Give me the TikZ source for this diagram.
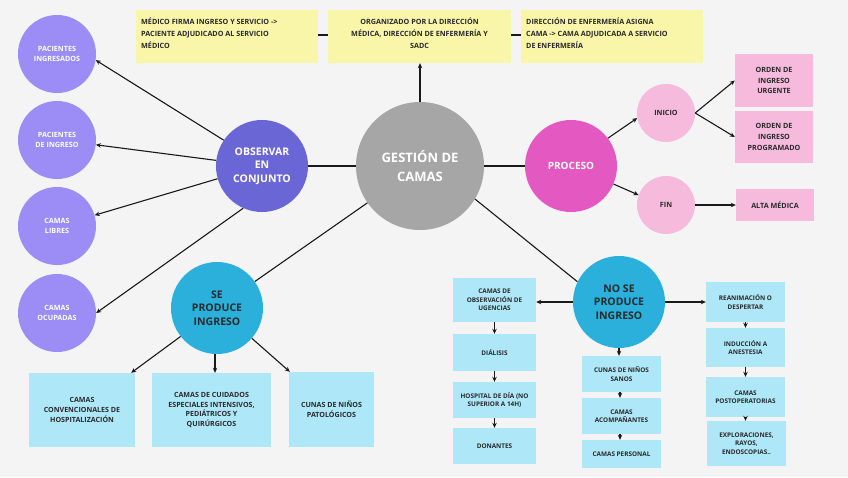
\documentclass[tikz,border=0pt]{standalone}
\usepackage{fontspec}
\setmainfont{Open Sans}
\usetikzlibrary{arrows.meta}
\definecolor{bgc}{HTML}{F4F4F4}
\definecolor{yel}{HTML}{F9F5A9}
\definecolor{gry}{HTML}{A6A6A6}
\definecolor{obsc}{HTML}{6B66D6}
\definecolor{lilac}{HTML}{9C8CF6}
\definecolor{cyanc}{HTML}{2BB0DC}
\definecolor{lblue}{HTML}{ADE7F8}
\definecolor{magc}{HTML}{E458C1}
\definecolor{pinkc}{HTML}{F5BADC}
\definecolor{txt}{HTML}{2A2A2A}
\tikzset{
  conn/.style={draw=black!90, line width=1.1pt},
  arr/.style={conn, -{Stealth[length=5pt,width=4.5pt]}},
  circ/.style={circle, inner sep=0pt, align=center},
  ybox/.style={rectangle, fill=yel, inner sep=0pt, text=txt, font=\bfseries\fontsize{7.2}{12}\selectfont},
  bbox/.style={rectangle, fill=lblue, inner sep=0pt, align=center, text=txt, font=\bfseries\fontsize{7.1}{9.8}\selectfont},
  rbox/.style={bbox, font=\bfseries\fontsize{6.4}{8.4}\selectfont},
  pbox/.style={rectangle, fill=pinkc, inner sep=0pt, align=center, text=txt, font=\bfseries\fontsize{7.2}{10.6}\selectfont},
  leftc/.style={circ, fill=lilac, minimum size=78pt, text=white, font=\bfseries\fontsize{7.2}{9.8}\selectfont},
  bigc/.style={circ, minimum size=92pt, font=\bfseries\fontsize{10.5}{13.3}\selectfont},
  smallc/.style={circ, fill=pinkc, minimum size=58pt, text=txt, font=\bfseries\fontsize{7.2}{9}\selectfont},
}
\begin{document}
\begin{tikzpicture}[x=1pt,y=-1pt]
\fill[bgc] (0,0) rectangle (848,477);
\useasboundingbox (0,0) rectangle (848,477);

% top yellow boxes
\node[ybox, minimum width=182pt, minimum height=53pt] (y1) at (227,36.5) {};
\node[ybox, anchor=north west, align=left] at (141,18) {MÉDICO FIRMA INGRESO Y SERVICIO ->\\PACIENTE ADJUDICADO AL SERVICIO\\MÉDICO};
\node[ybox, minimum width=183pt, minimum height=53pt] (y2) at (419.5,36.5) {};
\node[ybox, anchor=north, align=center] at (419.5,18) {ORGANIZADO POR LA DIRECCIÓN\\MÉDICA, DIRECCIÓN DE ENFERMERÍA Y\\SADC};
\node[ybox, minimum width=182pt, minimum height=53pt] (y3) at (612,36.5) {};
\node[ybox, anchor=north west, align=left] at (526,18) {DIRECCIÓN DE ENFERMERÍA ASIGNA\\CAMA -> CAMA ADJUDICADA A SERVICIO\\DE ENFERMERÍA};
\draw[conn] (y1.east |- 0,35) -- (y2.west |- 0,35);
\draw[conn] (y2.east |- 0,35) -- (y3.west |- 0,35);

% main circles
\node[circ, fill=gry, minimum size=128pt, text=white, font=\bfseries\fontsize{13}{19}\selectfont] (gest) at (420,166) {GESTIÓN DE\\CAMAS};
\node[bigc, fill=obsc, text=white] (obsv) at (262,166) {OBSERVAR\\EN\\CONJUNTO};
\node[bigc, fill=cyanc, text=txt] (se) at (217,308) {SE\\PRODUCE\\INGRESO};
\node[bigc, fill=magc, text=white, font=\bfseries\fontsize{10}{13}\selectfont] (proc) at (571,166) {PROCESO};
\node[bigc, fill=cyanc, text=txt] (nose) at (619,302) {NO SE\\PRODUCE\\INGRESO};

% left circles
\node[leftc] (ping) at (57,54) {PACIENTES\\INGRESADOS};
\node[leftc] (pdi) at (57,140) {PACIENTES\\DE INGRESO};
\node[leftc] (libres) at (57,226) {CAMAS\\LIBRES};
\node[leftc] (ocup) at (57,313) {CAMAS\\OCUPADAS};

% proceso side
\node[smallc] (ini) at (666,113) {INICIO};
\node[smallc] (fin) at (666,205) {FIN};
\node[pbox, minimum width=78pt, minimum height=53pt] (urg) at (774,80.5) {ORDEN DE\\INGRESO\\URGENTE};
\node[pbox, minimum width=78pt, minimum height=52pt] (prog) at (774,137) {ORDEN DE\\INGRESO\\PROGRAMADO};
\node[pbox, minimum width=78pt, minimum height=32pt] (alta) at (775,205) {ALTA MÉDICA};

% se produce ingreso boxes
\node[bbox, minimum width=106pt, minimum height=74pt] (conv) at (82,410) {CAMAS\\CONVENCIONALES DE\\HOSPITALIZACIÓN};
\node[bbox, minimum width=119pt, minimum height=74pt] (cuid) at (211.5,410) {CAMAS DE CUIDADOS\\ESPECIALES INTENSIVOS,\\PEDIÁTRICOS Y\\QUIRÚRGICOS};
\node[bbox, minimum width=85pt, minimum height=75pt] (cunpat) at (331.5,409.5) {CUNAS DE NIÑOS\\PATOLÓGICOS};

% no se produce ingreso boxes
\node[rbox, minimum width=83pt, minimum height=44pt] (obs) at (494.5,300) {CAMAS DE\\OBSERVACIÓN DE\\UGENCIAS};
\node[rbox, minimum width=83pt, minimum height=37pt] (dial) at (494.5,352.5) {DIÁLISIS};
\node[rbox, minimum width=83pt, minimum height=36pt] (hosp) at (494.5,400) {HOSPITAL DE DÍA (NO\\SUPERIOR A 14H)};
\node[rbox, minimum width=83pt, minimum height=36pt] (don) at (494.5,446) {DONANTES};

\node[rbox, minimum width=79pt, minimum height=36pt] (sanos) at (621.5,374) {CUNAS DE NIÑOS\\SANOS};
\node[rbox, minimum width=79pt, minimum height=36pt] (acomp) at (621.5,416) {CAMAS\\ACOMPAÑANTES};
\node[rbox, minimum width=79pt, minimum height=28pt] (pers) at (621.5,454) {CAMAS PERSONAL};

\node[rbox, minimum width=79pt, minimum height=40pt] (rean) at (745.5,302) {REANIMACIÓN O\\DESPERTAR};
\node[rbox, minimum width=79pt, minimum height=39pt] (ind) at (745.5,347.5) {INDUCCIÓN A\\ANESTESIA};
\node[rbox, minimum width=79pt, minimum height=40pt] (postop) at (745.5,397) {CAMAS\\POSTOPERATORIAS};
\node[rbox, minimum width=79pt, minimum height=45pt] (expl) at (746.5,443.5) {EXPLORACIONES,\\RAYOS,\\ENDOSCOPIAS..};

% connectors from gestion
\draw[arr] (gest.north) -- (gest.north |- y2.south);
\draw[conn] (gest.west) -- (obsv.east);
\draw[conn] (gest.east) -- (proc.west);
\draw[conn] (gest.215) -- (se.35);
\draw[conn] (gest.-31) -- (nose.154);

% observar
\draw[arr] (obsv.146) -- (ping.-9);
\draw[arr] (obsv.173) -- (pdi.-7);
\draw[arr] (obsv.196) -- (libres.16);
\draw[arr] (obsv.246) -- (ocup.0);

% proceso
\draw[arr] (proc.37) -- (ini.190);
\draw[arr] (proc.-23) -- (fin.160);
\draw[arr] (ini.east) -- (urg.west);
\draw[arr] (ini.east) -- (prog.west);
\draw[arr] (fin.east) -- (alta.west);

% se produce
\draw[arr] (se.218) -- ([xshift=-4pt]conv.north east);
\draw[arr] ([xshift=-2pt]se.south) -- ([xshift=-2pt]se.south |- cuid.north);
\draw[arr] (se.-41) -- ([xshift=1pt]cunpat.north west);

% no se produce
\draw[arr] (nose.west) -- (nose.west -| obs.east);
\draw[arr] (nose.south) -- (nose.south |- sanos.north);
\draw[arr] (nose.east) -- (nose.east -| rean.west);
\draw[arr] (obs.south) -- (dial.north);
\draw[arr] (dial.south) -- (hosp.north);
\draw[arr] (hosp.south) -- (don.north);
\draw[arr] ([xshift=-1.5pt]sanos.south) -- ([xshift=-1.5pt]acomp.north);
\draw[arr] ([xshift=-1.5pt]acomp.south) -- ([xshift=-1.5pt]pers.north);
\draw[arr] (rean.south) -- (ind.north);
\draw[arr] (ind.south) -- (postop.north);
\draw[arr] (postop.south) -- (postop.south |- expl.north);
\end{tikzpicture}
\end{document}
